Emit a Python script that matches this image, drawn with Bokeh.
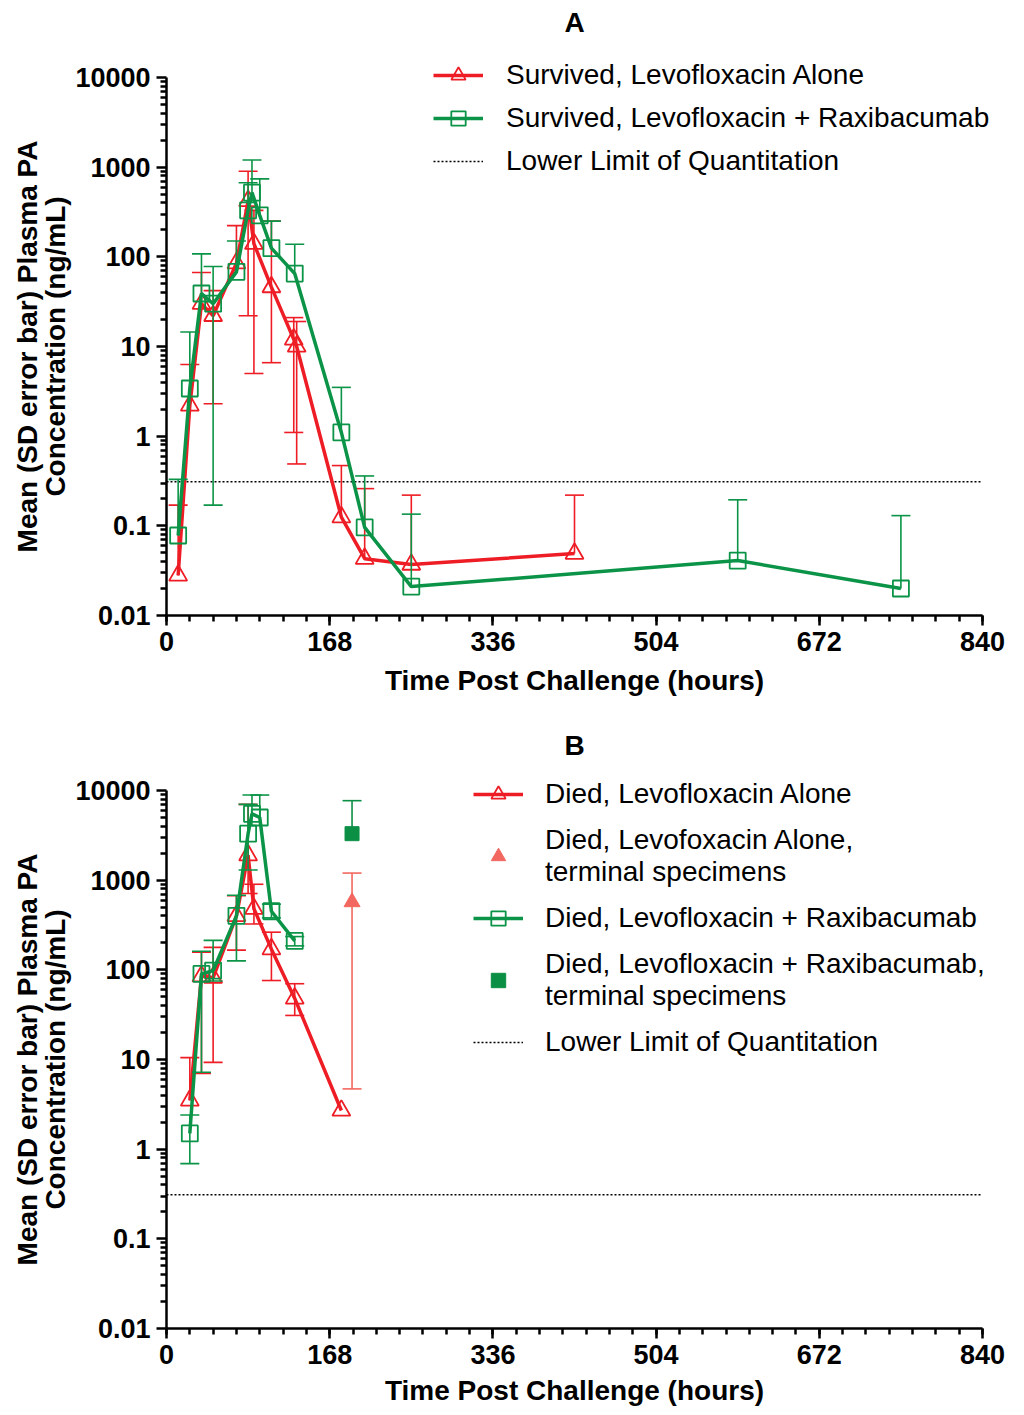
import math
from bokeh.plotting import figure
from bokeh.models import (FixedTicker, CustomJSTickFormatter, Range1d, Legend, LegendItem, Label)
from bokeh.layouts import column
from bokeh.embed import file_html
from bokeh.resources import INLINE

NAN = float("nan")
FONT = "Liberation Sans"
RED = "#EE1D25"
GREEN = "#0B9447"
RED_TERM = "#F2675F"
GREEN_TERM = "#0B8F45"

X_MAX = 840
X_TICKS = [0, 168, 336, 504, 672, 840]
X_MINOR = list(range(0, 841, 24))
Y_TICKS = [0.01, 0.1, 1, 10, 100, 1000, 10000]
LLOQ = 0.31
X_TITLE = "Time Post Challenge (hours)"
Y_TITLE = ["Mean (SD error bar) Plasma PA", "Concentration (ng/mL)"]

# ---------------- Panel A : survivors ----------------
a_levo_t = [12, 24, 36, 48, 72, 84, 90, 108, 131, 134, 180, 204, 252, 420]
a_levo_mean = [0.028, 2.2, 30, 22, 85, 420, 140, 46, 12, 10, 0.125, 0.043, 0.037, 0.049]
a_levo_hi = [0.17, 6.3, 67, 42, 223, 900, 330, 250, 21, 19, 0.47, 0.26, 0.22, 0.22]
a_levo_lo = [NAN, NAN, NAN, 2.3, NAN, 22, 5.0, 6.6, 1.1, 0.49, NAN, NAN, NAN, NAN]

a_rax_t = [12, 24, 36, 48, 72, 84, 88, 96, 108, 132, 180, 204, 252, 588, 756]
a_rax_mean = [0.078, 3.4, 39, 30, 68, 330, 520, 290, 125, 65, 1.1, 0.096, 0.021, 0.041, 0.020]
a_rax_hi = [0.33, 14.5, 108, 78, 150, 670, 1200, 740, 250, 138, 3.5, 0.36, 0.135, 0.195, 0.13]
a_rax_lo = [NAN, NAN, NAN, 0.17, NAN, NAN, NAN, NAN, NAN, NAN, NAN, NAN, NAN, NAN, NAN]

# ---------------- Panel B : non-survivors ----------------
b_levo_t = [24, 36, 48, 72, 84, 90, 108, 132, 180]
b_levo_mean = [3.5, 85, 82, 400, 1900, 480, 170, 48, 2.7]
b_levo_hi = [10.5, 157, 178, 670, 7000, 900, 263, 70, NAN]
b_levo_lo = [NAN, 7.0, 9.3, 166, 710, 325, 76, 31, NAN]

b_levo_term_t = [191]
b_levo_term_mean = [570]
b_levo_term_hi = [1200]
b_levo_term_lo = [4.7]

b_rax_t = [24, 36, 48, 72, 84, 88, 96, 108, 132]
b_rax_mean = [1.5, 90, 98, 400, 3300, 5500, 5000, 450, 210]
b_rax_hi = [2.4, 161, 213, 680, 7000, 8900, 8900, 540, 235]
b_rax_lo = [0.69, 7.2, 75, 126, 1300, NAN, NAN, 380, 185]

b_rax_term_t = [191]
b_rax_term_mean = [3300]
b_rax_term_hi = [7700]
b_rax_term_lo = [NAN]

# ---------------- layout (pixels) ----------------
FIG_W = 1016
AXIS_W = 816          # px spanned by the x axis (0..840 h)
AXIS_H = 538          # px spanned by the y axis (0.01..10000)
LEFT = 166            # px from figure left edge to x = 0
DECADE_PX = AXIS_H / (math.log10(Y_TICKS[-1]) - math.log10(Y_TICKS[0]))
HOUR_PX = AXIS_W / X_MAX


def fmt_axis(ax):
    ax.axis_line_width = 2.5
    ax.axis_line_color = "black"
    ax.major_tick_line_width = 2.5
    ax.minor_tick_line_width = 2.5
    ax.major_tick_out = 10
    ax.major_tick_in = 0
    ax.minor_tick_out = 6
    ax.minor_tick_in = 0
    ax.major_label_text_font = FONT
    ax.major_label_text_font_style = "bold"
    ax.major_label_text_font_size = "27px"
    ax.major_label_text_color = "black"
    ax.major_label_standoff = 6


def make_fig(title, top, bottom, title_gap, xtitle_gap):
    """top/bottom: px between figure edge and the y axis ends."""
    height = top + AXIS_H + bottom
    px_x = lambda px: (px - LEFT) / HOUR_PX                    # figure px -> hours
    px_y = lambda py: Y_TICKS[-1] / 10 ** ((py - top) / DECADE_PX)  # figure px -> conc
    p = figure(width=FIG_W, height=height,
               x_range=Range1d(px_x(0), px_x(FIG_W)),
               y_range=Range1d(px_y(height), px_y(0)), y_axis_type="log",
               output_backend="svg", toolbar_location=None,
               min_border_left=0, min_border_right=0,
               min_border_top=0, min_border_bottom=0)
    p.grid.visible = False
    p.outline_line_color = None
    p.xaxis.ticker = FixedTicker(ticks=X_TICKS, minor_ticks=X_MINOR)
    p.xaxis.bounds = (0, X_MAX)
    p.xaxis.fixed_location = Y_TICKS[0]
    minors = [m * 10 ** k for k in range(-2, 4) for m in range(2, 10)]
    p.yaxis.ticker = FixedTicker(ticks=Y_TICKS, minor_ticks=minors)
    p.yaxis.bounds = (Y_TICKS[0], Y_TICKS[-1])
    p.yaxis.fixed_location = 0
    p.yaxis.formatter = CustomJSTickFormatter(
        code="return tick >= 1 ? Math.round(tick).toString() : tick.toPrecision(1);")
    fmt_axis(p.xaxis[0])
    fmt_axis(p.yaxis[0])
    mid_y = px_y(top + AXIS_H / 2)
    common = dict(text_font=FONT, text_font_size="28px", text_font_style="bold",
                  text_color="black", text_align="center", text_baseline="middle")
    p.add_layout(Label(x=X_MAX / 2, y=px_y(top - title_gap), text=title, **common))
    p.add_layout(Label(x=X_MAX / 2, y=px_y(top + AXIS_H + xtitle_gap), text=X_TITLE, **common))
    p.add_layout(Label(x=px_x(27), y=mid_y, text=Y_TITLE[0], angle=math.pi / 2, **common))
    p.add_layout(Label(x=px_x(55), y=mid_y, text=Y_TITLE[1], angle=math.pi / 2, **common))
    return p


def error_bars(p, t, mean, lo, hi, color):
    x0, y0, y1 = [], [], []
    for ti, m, l, h in zip(t, mean, lo, hi):
        if math.isnan(h):
            continue
        x0.append(ti)
        y0.append(m if math.isnan(l) else l)
        y1.append(h)
    p.segment(x0=x0, y0=y0, x1=x0, y1=y1, line_color=color, line_width=1.6)
    p.scatter(x=x0, y=y1, marker="dash", size=19, line_color=color, line_width=1.6)
    lx = [ti for ti, l in zip(t, lo) if not math.isnan(l)]
    ly = [l for l in lo if not math.isnan(l)]
    if lx:
        p.scatter(x=lx, y=ly, marker="dash", size=19, line_color=color, line_width=1.6)


def series(p, t, mean, lo, hi, color, marker, size):
    error_bars(p, t, mean, lo, hi, color)
    lr = p.line(t, mean, line_color=color, line_width=3.5)
    sr = p.scatter(t, mean, marker=marker, size=size, line_color=color,
                   line_width=1.8, fill_alpha=0)
    return [lr, sr]


def terminal(p, t, mean, lo, hi, color, marker, size):
    error_bars(p, t, mean, lo, hi, color)
    sr = p.scatter(t, mean, marker=marker, size=size, line_color=color,
                   fill_color=color, line_width=1)
    return [sr]


def lloq_line(p):
    return p.line([0, X_MAX], [LLOQ, LLOQ], line_color="black",
                  line_width=1.6, line_dash="2 2")


def style_legend(lg, loc, standoff, spacing):
    lg.location = loc
    lg.label_text_font = FONT
    lg.label_text_font_size = "28px"
    lg.label_text_color = "black"
    lg.label_text_line_height = 1.05
    lg.label_height = 36
    lg.glyph_width = 50
    lg.glyph_height = 36
    lg.label_standoff = standoff
    lg.spacing = spacing
    lg.padding = 0
    lg.margin = 0
    lg.border_line_alpha = 0
    lg.background_fill_alpha = 0


# Panel A
A_TOP, A_BOTTOM = 77, 93
pA = make_fig("A", A_TOP, A_BOTTOM, 55, 65)
lq_a = lloq_line(pA)
rA1 = series(pA, a_levo_t, a_levo_mean, a_levo_lo, a_levo_hi, RED, "triangle", 18)
rA2 = series(pA, a_rax_t, a_rax_mean, a_rax_lo, a_rax_hi, GREEN, "square", 16)
legA = Legend(items=[
    LegendItem(label="Survived, Levofloxacin Alone", renderers=rA1),
    LegendItem(label="Survived, Levofloxacin + Raxibacumab", renderers=rA2),
    LegendItem(label="Lower Limit of Quantitation", renderers=[lq_a]),
])
style_legend(legA, (LEFT + 267, A_BOTTOM + 436), 23, 7)
pA.add_layout(legA)

# Panel B
B_TOP, B_BOTTOM = 82, 80
pB = make_fig("B", B_TOP, B_BOTTOM, 45, 62)
lq_b = lloq_line(pB)
rB1 = series(pB, b_levo_t, b_levo_mean, b_levo_lo, b_levo_hi, RED, "triangle", 18)
rB3 = series(pB, b_rax_t, b_rax_mean, b_rax_lo, b_rax_hi, GREEN, "square", 16)
rB2 = terminal(pB, b_levo_term_t, b_levo_term_mean, b_levo_term_lo, b_levo_term_hi,
               RED_TERM, "triangle", 16)
rB4 = terminal(pB, b_rax_term_t, b_rax_term_mean, b_rax_term_lo, b_rax_term_hi,
               GREEN_TERM, "square", 14)
legB = Legend(items=[
    LegendItem(label="Died, Levofloxacin Alone", renderers=rB1),
    LegendItem(label="Died, Levofoxacin Alone,\nterminal specimens", renderers=rB2),
    LegendItem(label="Died, Levofloxacin + Raxibacumab", renderers=rB3),
    LegendItem(label="Died, Levofloxacin + Raxibacumab,\nterminal specimens", renderers=rB4),
    LegendItem(label="Lower Limit of Quantitation", renderers=[lq_b]),
])
style_legend(legB, (LEFT + 307, B_BOTTOM + 268), 22, 12)
pB.add_layout(legB)

layout = column(pA, pB, spacing=0)
open("out.html", "w").write(file_html(layout, INLINE))
